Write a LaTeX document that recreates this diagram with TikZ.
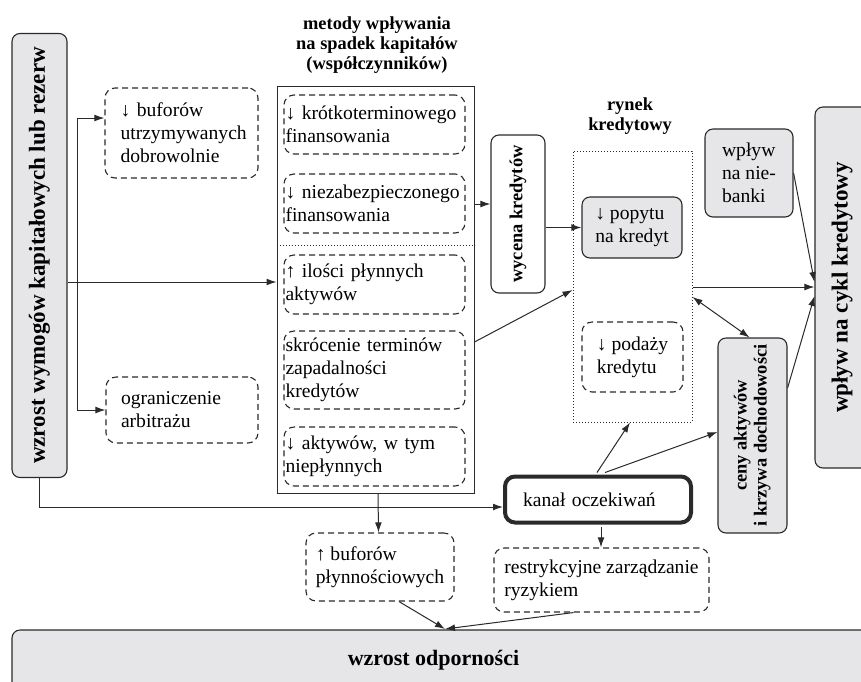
\documentclass[tikz,border=0pt]{standalone}
\usepackage{fontspec}
\setmainfont{Liberation Serif}
\usepackage{graphicx}
\usetikzlibrary{arrows.meta,calc}
\definecolor{boxgray}{HTML}{E6E6E8}
\definecolor{ink}{HTML}{2A2A2A}
\begin{document}
\hyphenpenalty=10000
\exhyphenpenalty=10000
\begin{tikzpicture}[x=0.5pt,y=-0.5pt,
  base/.style={draw=ink, line width=0.55pt, inner sep=0pt, font=\fontsize{9.8}{11.5}\selectfont},
  dbox/.style={base, dash pattern=on 3pt off 2pt, rounded corners=5pt, align=left},
  gbox/.style={base, fill=boxgray, rounded corners=4pt},
  wbox/.style={base, fill=white, rounded corners=4pt},
  ibox/.style={dbox, text width=89pt, inner xsep=0.75pt, minimum width=90.5pt},
  ttl/.style={font=\bfseries\fontsize{9.2}{10}\selectfont, align=center, inner sep=0pt},
  arr/.style={draw=ink, line width=0.5pt, -{Latex[length=5pt,width=3.4pt]}},
  dbl/.style={draw=ink, line width=0.5pt, {Latex[length=5pt,width=3.4pt]}-{Latex[length=5pt,width=3.4pt]}},
  dotline/.style={draw=ink, line width=0.5pt, dash pattern=on 0.6pt off 0.9pt}
]
\useasboundingbox (0,0) rectangle (861,681);
\clip (0,0) rectangle (861,681);

% left column
\node[gbox, minimum width=27.5pt, minimum height=222pt] (L) at (39.5,255.5)
  {\rotatebox{90}{\bfseries\fontsize{11.5}{12}\selectfont wzrost wymogów kapitałowych lub rezerw}};
\node[dbox, minimum width=76.5pt, minimum height=45pt, text width=61pt] (B1) at (181.5,133)
  {↓ buforów\\utrzymywanych\\dobrowolnie};
\node[dbox, minimum width=76pt, minimum height=33pt, text width=61pt] (B2) at (182,410)
  {ograniczenie\\arbitrażu};

% main box of methods
\node[ttl] (T1) at (377,45) {metody wpływania\\na spadek kapitałów\\(współczynników)};
\node[base, line width=0.5pt, minimum width=98.5pt, minimum height=203.5pt] (M) at (375.5,289.5) {};
\draw[dotline] (M.west |- 0,245) -- (M.east |- 0,245);
\node[ibox, minimum height=29.5pt] (I1) at (374.5,124.5) {\mbox{↓ krótkoterminowego}\\finansowania};
\node[ibox, minimum height=29.5pt] (I2) at (374.5,203.5) {\mbox{↓ niezabezpieczonego}\\finansowania};
\node[ibox, minimum height=29.5pt] (I3) at (374.5,284.5) {↑ ilości płynnych\\aktywów};
\node[ibox, minimum height=39pt] (I4) at (374.5,370) {skrócenie terminów\\zapadalności\\kredytów};
\node[ibox, minimum height=29.5pt] (I5) at (374.5,456.5) {↓ aktywów, w tym\\niepłynnych};

% credit valuation
\node[wbox, minimum width=27pt, minimum height=79pt] (W) at (518,214)
  {\rotatebox{90}{\bfseries\fontsize{9.2}{10}\selectfont wycena kredytów}};

% credit market
\node[ttl] (T2) at (630,116) {rynek\\kredytowy};
\node[dotline, minimum width=59.5pt, minimum height=135.5pt, inner sep=0pt] (R) at (632.5,286.5) {};
\node[gbox, minimum width=50pt, minimum height=30.5pt, align=left] (P) at (632,227.5) {↓ popytu\\na kredyt};
\node[dbox, minimum width=50.5pt, minimum height=35pt] (S) at (632.5,357) {↓ podaży\\kredytu};

% right part
\node[gbox, minimum width=44pt, minimum height=44pt, align=left] (N) at (749,173) {wpływ\\na nie-\\banki};
\node[gbox, minimum width=27pt, minimum height=180.5pt] (C) at (842,287.5)
  {\rotatebox{90}{\bfseries\fontsize{11.5}{12}\selectfont wpływ na cykl kredytowy}};
\node[gbox, minimum width=34.5pt, minimum height=97.5pt] (A) at (752.5,435.5)
  {\rotatebox{90}{\bfseries\fontsize{9.2}{10}\selectfont\begin{tabular}{@{}c@{}}ceny aktywów\\i krzywa dochodowości\end{tabular}}};

% bottom part
\node[base, line width=2pt, rounded corners=5pt, minimum width=93pt, minimum height=23pt, text width=75pt, align=left] (K) at (598,499.5) {kanał oczekiwań};
\node[dbox, minimum width=74pt, minimum height=34pt] (BP) at (380,567) {↑ buforów\\płynnościowych};
\node[dbox, minimum width=107.5pt, minimum height=32pt] (RZ) at (601.5,580) {restrykcyjne zarządzanie\\ryzykiem};
\node[gbox, minimum width=431.5pt, minimum height=30pt] (O) at (443.5,660)
  {\bfseries\fontsize{11}{12}\selectfont wzrost odporności\hspace*{10pt}};

% connectors
\coordinate (j) at (77,282);
\coordinate (ot) at (445,629);
\draw[arr] (L.east |- 0,282) -- (M.west |- 0,282);
\draw[arr] (j) |- (B1.west |- 0,118);
\draw[arr] (j) |- (B2.west);
\draw[arr] (L.south) |- ($(K.west)+(0,7.5)$);
\draw[arr] (M.east |- 0,204) -- (W.west |- 0,204);
\draw[arr] (W.east |- P.west) -- (P.west);
\draw[arr] (M.east |- 0,342) -- (R.west |- 0,290);
\draw[arr] (R.east |- 0,287) -- (C.west |- 0,287);
\draw[arr] (N.east) -- (C.west |- 0,282);
\draw[arr] (A.east |- 0,388) -- (C.west |- 0,296);
\draw[dbl] (R.east |- 0,297) -- ($(A.north)+(-3,0)$);
\draw[arr] ($(K.north)+(-1,-2)$) -- ($(R.south)+(-2.5,0)$);
\draw[arr] ($(K.north)+(7,-2)$) -- (A.west |- 0,432);
\draw[arr] ($(M.south)+(2.5,0)$) -- ($(BP.north)+(-1.5,0)$);
\draw[arr] ($(K.south)+(3,2)$) -- (RZ.north -| {$(K.south)+(3,0)$});
\draw[arr] ($(BP.south)+(19,0)$) -- (ot);
\draw[arr] ($(RZ.south)+(-28,0)$) -- (ot);
\end{tikzpicture}
\end{document}
